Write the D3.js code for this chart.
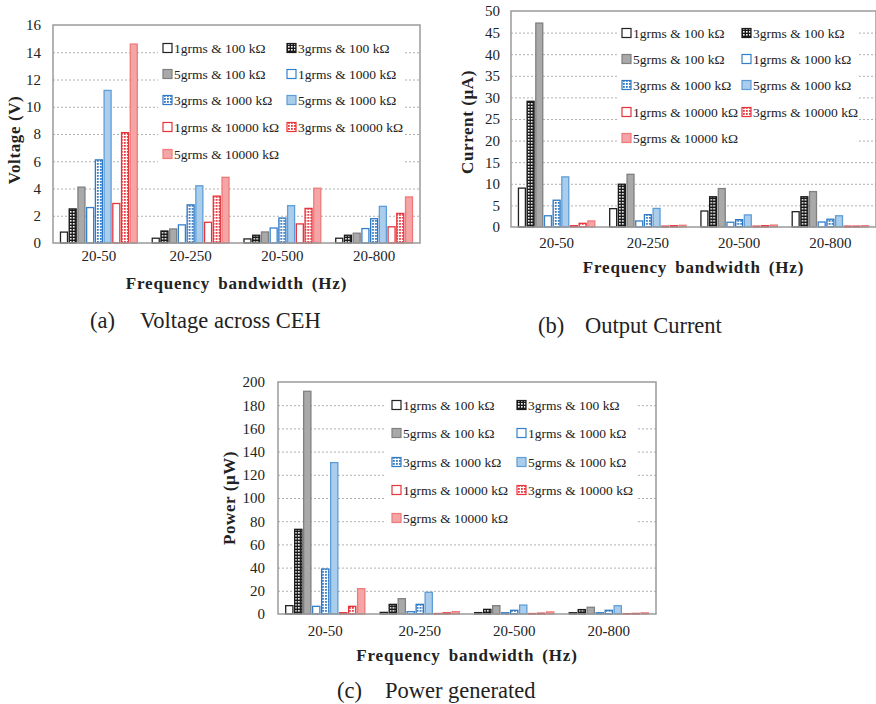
<!DOCTYPE html>
<html><head><meta charset="utf-8">
<script src="https://cdn.jsdelivr.net/npm/d3@7"></script>
<style>
html,body{margin:0;padding:0;background:#fff;}
svg{display:block;}
text{font-family:"Liberation Serif","Times New Roman",serif;fill:#222;}
</style></head>
<body>
<svg id="fig" width="876" height="704"></svg>
<script>
// ---------- DATA ----------
const categories = ["20-50", "20-250", "20-500", "20-800"];
const seriesNames = [
  "1grms & 100 kΩ", "3grms & 100 kΩ", "5grms & 100 kΩ",
  "1grms & 1000 kΩ", "3grms & 1000 kΩ", "5grms & 1000 kΩ",
  "1grms & 10000 kΩ", "3grms & 10000 kΩ", "5grms & 10000 kΩ"
];
// values per category, in series order
const voltageValues = [
  [0.8, 2.5, 4.1, 2.6, 6.1, 11.2, 2.9, 8.1, 14.6],
  [0.35, 0.88, 1.03, 1.33, 2.8, 4.2, 1.52, 3.44, 4.82],
  [0.3, 0.57, 0.81, 1.1, 1.83, 2.74, 1.4, 2.54, 4.02],
  [0.35, 0.57, 0.72, 1.06, 1.78, 2.69, 1.19, 2.17, 3.38]
];
const currentValues = [
  [9.0, 29.1, 47.2, 2.6, 6.2, 11.6, 0.3, 0.85, 1.4],
  [4.25, 9.9, 12.2, 1.4, 2.85, 4.3, 0.2, 0.3, 0.4],
  [3.7, 7.0, 8.9, 1.1, 1.7, 2.8, 0.2, 0.3, 0.45],
  [3.55, 7.0, 8.2, 1.15, 1.8, 2.6, 0.2, 0.2, 0.3]
];
const powerValues = [
  [7.2, 73, 192, 6.6, 38.8, 130.5, 1.1, 6.6, 21.8],
  [1.4, 8.3, 13.2, 2.0, 8.3, 18.7, 0.4, 1.0, 2.0],
  [1.2, 4.0, 7.2, 1.1, 3.2, 7.7, 0.4, 0.7, 1.8],
  [1.1, 3.8, 5.8, 1.1, 3.2, 7.1, 0.3, 0.5, 1.0]
];
const voltageTicks = [0, 2, 4, 6, 8, 10, 12, 14, 16];
const currentTicks = [0, 5, 10, 15, 20, 25, 30, 35, 40, 45, 50];
const powerTicks = [0, 20, 40, 60, 80, 100, 120, 140, 160, 180, 200];

// ---------- STYLES ----------
const svg = d3.select("#fig");
const defs = svg.append("defs");
function dotPattern(id, base, dot, size) {
  const p = defs.append("pattern").attr("id", id).attr("patternUnits", "userSpaceOnUse")
    .attr("width", 3).attr("height", 3);
  p.append("rect").attr("width", 3).attr("height", 3).attr("fill", base);
  p.append("rect").attr("x", 1).attr("y", 1).attr("width", size).attr("height", size).attr("fill", dot);
}
dotPattern("dotBlack", "#1a1a1a", "#ffffff", 1.6);
dotPattern("dotBlue", "#ffffff", "#2f78c4", 1.8);
dotPattern("dotRed", "#ffffff", "#e8333a", 1.8);
const seriesStyle = [
  {fill: "#ffffff", stroke: "#222222"},
  {fill: "url(#dotBlack)", stroke: "#1a1a1a"},
  {fill: "#a9a9a9", stroke: "#808080"},
  {fill: "#ffffff", stroke: "#3580cc"},
  {fill: "url(#dotBlue)", stroke: "#2f78c4"},
  {fill: "#aacdec", stroke: "#5e9ed8"},
  {fill: "#ffffff", stroke: "#e8333a"},
  {fill: "url(#dotRed)", stroke: "#e8333a"},
  {fill: "#f5a5a5", stroke: "#f07a7a"}
];

// ---------- CHART ----------
function drawChart(cfg) {
  const g = svg.append("g");
  const x = d3.scaleBand().domain(categories).range([cfg.left, cfg.right])
    .paddingInner(0.15).paddingOuter(0.075);
  const xs = d3.scaleBand().domain(d3.range(seriesNames.length)).range([0, x.bandwidth()])
    .paddingInner(0.06);
  const y = d3.scaleLinear().domain([0, d3.max(cfg.ticks)]).range([cfg.bottom, cfg.top]);

  // gridlines
  g.append("g").selectAll("line").data(cfg.ticks.slice(1, -1)).join("line")
    .attr("x1", cfg.left).attr("x2", cfg.right)
    .attr("y1", d => y(d) + 0.5).attr("y2", d => y(d) + 0.5)
    .attr("stroke", "#b0b0b0").attr("stroke-width", 1).attr("stroke-dasharray", "2,2");

  // legend background
  g.append("rect").attr("x", cfg.legend.bg[0]).attr("y", cfg.legend.bg[1])
    .attr("width", cfg.legend.bg[2]).attr("height", cfg.legend.bg[3]).attr("fill", "#fff");

  // bars
  const groups = g.append("g").selectAll("g").data(cfg.values).join("g")
    .attr("transform", (d, i) => `translate(${x(categories[i])},0)`);
  groups.selectAll("rect").data(d => d).join("rect")
    .attr("x", (d, j) => xs(j) + 0.6)
    .attr("width", xs.bandwidth() - 1.2)
    .attr("y", d => y(d))
    .attr("height", d => Math.max(0, y(0) - y(d)))
    .attr("fill", (d, j) => seriesStyle[j].fill)
    .attr("stroke", (d, j) => seriesStyle[j].stroke)
    .attr("stroke-width", 1.3);

  // frame
  g.append("rect").attr("x", cfg.left).attr("y", cfg.top)
    .attr("width", cfg.right - cfg.left).attr("height", cfg.bottom - cfg.top)
    .attr("fill", "none").attr("stroke", "#9a9a9a").attr("stroke-width", 1.5);

  // y axis labels
  const yAxis = d3.axisLeft(y).tickValues(cfg.ticks).tickSize(0).tickPadding(cfg.yPad);
  const ya = g.append("g").attr("transform", `translate(${cfg.left},0)`).call(yAxis);
  ya.select(".domain").remove();
  ya.selectAll("text").attr("font-size", 15).attr("fill", "#222");

  // x axis labels
  const xAxis = d3.axisBottom(x).tickSize(0).tickPadding(cfg.xPad);
  const xa = g.append("g").attr("transform", `translate(0,${cfg.bottom})`).call(xAxis);
  xa.select(".domain").remove();
  xa.selectAll("text").attr("font-size", 15).attr("fill", "#222");

  // axis titles
  g.append("text").attr("x", (cfg.left + cfg.right) / 2 + cfg.xTitleDx).attr("y", cfg.xTitleY)
    .attr("text-anchor", "middle").attr("dominant-baseline", "central")
    .attr("font-size", 17).attr("font-weight", "bold").attr("letter-spacing", "0.8px")
    .attr("word-spacing", "3px").text("Frequency bandwidth (Hz)");
  g.append("text").attr("transform", `translate(${cfg.yTitle[0]},${cfg.yTitle[1]}) rotate(-90)`)
    .attr("text-anchor", "middle").attr("dominant-baseline", "central")
    .attr("font-size", 17).attr("font-weight", "bold").attr("letter-spacing", "0.6px")
    .text(cfg.yLabel);

  // legend
  const L = cfg.legend;
  const items = g.append("g").selectAll("g").data(seriesNames).join("g")
    .attr("transform", (d, i) => `translate(${i % 2 === 0 ? L.x1 : L.x2},${L.rows[Math.floor(i / 2)]})`);
  items.append("rect").attr("x", 0).attr("y", -4.5).attr("width", 9).attr("height", 9)
    .attr("fill", (d, i) => seriesStyle[i].fill).attr("stroke", (d, i) => seriesStyle[i].stroke)
    .attr("stroke-width", 1.2);
  items.append("text").attr("x", 11).attr("y", 0).attr("dominant-baseline", "central")
    .attr("font-size", 13.5).text(d => d);

  // caption
  g.append("text").attr("x", cfg.caption.x1).attr("y", cfg.caption.y).attr("font-size", 22.5)
    .text(cfg.caption.label);
  g.append("text").attr("x", cfg.caption.x2).attr("y", cfg.caption.y).attr("font-size", 22.5)
    .text(cfg.caption.title);
}

drawChart({
  values: voltageValues, ticks: voltageTicks, yLabel: "Voltage (V)",
  left: 53, right: 420, top: 25, bottom: 243, yPad: 12, xPad: 7,
  yTitle: [14, 140], xTitleY: 283, xTitleDx: 0,
  legend: {x1: 163, x2: 287, rows: [48, 74, 100, 127, 154], bg: [158, 35, 245, 132]},
  caption: {x1: 90, x2: 140, y: 328, label: "(a)", title: "Voltage across CEH"}
});
drawChart({
  values: currentValues, ticks: currentTicks, yLabel: "Current (μA)",
  left: 511, right: 876, top: 11, bottom: 227, yPad: 11, xPad: 10,
  yTitle: [467, 122], xTitleY: 267, xTitleDx: 0,
  legend: {x1: 622, x2: 742, rows: [33, 59, 85, 112, 138], bg: [617, 20, 241, 131]},
  caption: {x1: 538, x2: 585, y: 333, label: "(b)", title: "Output Current"}
});
drawChart({
  values: powerValues, ticks: powerTicks, yLabel: "Power (μW)",
  left: 278, right: 656, top: 382, bottom: 614, yPad: 13, xPad: 11,
  yTitle: [229, 498], xTitleY: 655, xTitleDx: 0,
  legend: {x1: 392, x2: 517, rows: [405, 433, 462, 490, 518], bg: [386, 392, 251, 140]},
  caption: {x1: 337, x2: 385, y: 698, label: "(c)", title: "Power generated"}
});
</script>
</body></html>
